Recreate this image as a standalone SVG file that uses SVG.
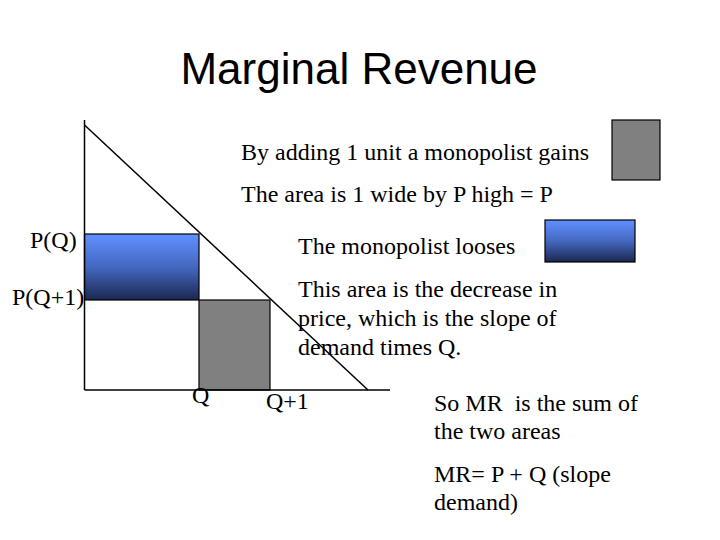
<svg xmlns="http://www.w3.org/2000/svg" width="720" height="540" viewBox="0 0 720 540">
<style>
.t{font-family:"Liberation Serif","Times New Roman",serif;font-size:24px;fill:#000;white-space:pre}
.title{font-family:"Liberation Sans",Arial,sans-serif;font-size:44px;fill:#000}
.ln{stroke:#000;stroke-width:1.5;fill:none}
.gray{fill:#808080;stroke:#000;stroke-width:1.2}
.blue{fill:url(#bg);stroke:#000;stroke-width:1.2}
</style>
<defs>
<linearGradient id="bg" x1="0" y1="0" x2="0" y2="1">
<stop offset="0" stop-color="#6090ff"/>
<stop offset="0.5" stop-color="#4468c0"/>
<stop offset="1" stop-color="#1b2850"/>
</linearGradient>
</defs>
<rect width="720" height="540" fill="#fff"/>
<text class="title" x="359" y="84" text-anchor="middle">Marginal Revenue</text>
<g id="areas">
<rect id="lostArea" class="blue" x="84.5" y="234" width="114.5" height="66"/>
<rect id="gainArea" class="gray" x="199" y="300" width="71" height="90"/>
</g>
<g id="connectors">
<line class="ln" x1="84.5" y1="120" x2="84.5" y2="390"/>
<line class="ln" x1="84.5" y1="390" x2="390" y2="390"/>
<line class="ln" x1="84.5" y1="125" x2="368" y2="390"/>
</g>
<g id="legend">
<rect id="legendGray" class="gray" x="612" y="120" width="48" height="60"/>
<rect id="legendBlue" class="blue" x="545" y="220" width="90" height="42"/>
</g>
<g id="labels">
<text class="t" x="241" y="160">By adding 1 unit a monopolist gains</text>
<text class="t" x="241" y="202">The area is 1 wide by P high = P</text>
<text class="t" x="30" y="248">P(Q)</text>
<text class="t" x="12" y="305">P(Q+1)</text>
<text class="t" x="298" y="254">The monopolist looses</text>
<text class="t" x="298" y="297">This area is the decrease in</text>
<text class="t" x="298" y="326">price, which is the slope of</text>
<text class="t" x="298" y="355">demand times Q.</text>
<text class="t" x="192" y="403">Q</text>
<text class="t" x="266" y="409">Q+1</text>
<text class="t" x="434" y="411" xml:space="preserve">So MR  is the sum of</text>
<text class="t" x="434" y="439">the two areas</text>
<text class="t" x="434" y="482">MR= P + Q (slope</text>
<text class="t" x="434" y="510">demand)</text>
</g>
</svg>
